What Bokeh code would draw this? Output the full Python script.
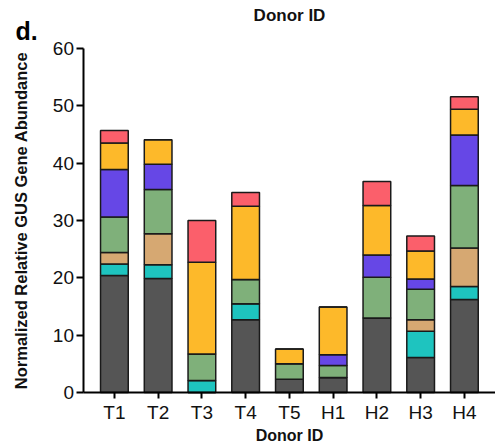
import math
from bokeh.plotting import figure
from bokeh.models import Range1d, FixedTicker, Label, ColumnDataSource
from bokeh.embed import file_html
from bokeh.resources import INLINE

# ---- data ----
donors = ["T1", "T2", "T3", "T4", "T5", "H1", "H2", "H3", "H4"]
dark   = [20.4, 19.9, 0.0, 12.7, 2.3, 2.6, 13.0, 6.1, 16.2]
teal   = [2.0, 2.4, 2.1, 2.8, 0.0, 0.0, 0.0, 4.6, 2.3]
tan    = [2.0, 5.4, 0.0, 0.0, 0.0, 0.0, 0.0, 2.0, 6.7]
green  = [6.2, 7.7, 4.6, 4.2, 2.7, 2.1, 7.1, 5.3, 10.9]
purple = [8.3, 4.4, 0.0, 0.0, 0.0, 1.9, 3.9, 1.8, 8.8]
yellow = [4.6, 4.3, 16.0, 12.8, 2.6, 8.3, 8.6, 4.9, 4.5]
red    = [2.2, 0.0, 7.3, 2.4, 0.0, 0.0, 4.2, 2.6, 2.2]
y_ticks = [0, 10, 20, 30, 40, 50, 60]

series = ["dark", "teal", "tan", "green", "purple", "yellow", "red"]
colors = ["#555555", "#1ec4bf", "#d6a872", "#7fb07a", "#6647e6", "#fdb92a", "#fb5f6b"]

FONT = "Liberation Sans"
W, H = 495, 444

src = ColumnDataSource(dict(
    x=list(range(len(donors))),
    dark=dark, teal=teal, tan=tan, green=green,
    purple=purple, yellow=yellow, red=red,
))

# frame covers the whole canvas; axes are pinned inside it
p = figure(width=W, height=H, output_backend="svg", toolbar_location=None,
           x_range=Range1d(-2.603, 8.711), y_range=Range1d(-9.07, 68.37),
           min_border=0, min_border_left=0, min_border_right=0,
           min_border_top=0, min_border_bottom=0)

p.vbar_stack(series, x="x", width=0.633, color=colors, line_color="#1a1a1a",
             line_width=1.5, source=src)

p.xgrid.visible = False
p.ygrid.visible = False
p.outline_line_color = None
p.background_fill_color = "white"
p.border_fill_color = "white"

# y axis
ya = p.yaxis[0]
ya.fixed_location = -0.695
ya.bounds = (0, 60)
ya.ticker = FixedTicker(ticks=y_ticks)
ya.minor_tick_line_color = None
ya.major_tick_in = 0
ya.major_tick_out = 7
ya.major_tick_line_width = 2
ya.major_tick_line_color = "black"
ya.axis_line_width = 2
ya.axis_line_color = "black"
ya.major_label_text_font = FONT
ya.major_label_text_font_size = "19px"
ya.major_label_text_color = "#111111"
ya.major_label_standoff = 3
ya.axis_label = "Normalized Relative GUS Gene Abundance"
ya.axis_label_text_font = FONT
ya.axis_label_text_font_style = "bold"
ya.axis_label_text_font_size = "16.5px"
ya.axis_label_text_color = "#111111"
ya.axis_label_standoff = 19

# x axis
xa = p.xaxis[0]
xa.fixed_location = 0
xa.bounds = (-0.695, 8.711)
xa.ticker = FixedTicker(ticks=list(range(len(donors))))
xa.major_label_overrides = {i: d for i, d in enumerate(donors)}
xa.minor_tick_line_color = None
xa.major_tick_in = 0
xa.major_tick_out = 6
xa.major_tick_line_width = 2
xa.major_tick_line_color = "black"
xa.axis_line_width = 2
xa.axis_line_color = "black"
xa.major_label_text_font = FONT
xa.major_label_text_font_size = "19px"
xa.major_label_text_color = "#111111"
xa.major_label_standoff = 4
xa.axis_label = "Donor ID"
xa.axis_label_text_font = FONT
xa.axis_label_text_font_style = "bold"
xa.axis_label_text_font_size = "16px"
xa.axis_label_text_color = "#111111"
xa.axis_label_standoff = 0

# texts above the plot
p.add_layout(Label(x=289, y=H - 15, x_units="screen", y_units="screen",
                   text="Donor ID", text_font=FONT, text_font_style="bold",
                   text_font_size="17px", text_align="center",
                   text_baseline="alphabetic", text_color="#111111"))
p.add_layout(Label(x=15, y=H - 30, x_units="screen", y_units="screen",
                   text="d.", text_font=FONT, text_font_style="bold",
                   text_font_size="25px", text_align="left",
                   text_baseline="alphabetic", text_color="#000000"))

open("out.html", "w").write(file_html(p, INLINE))
